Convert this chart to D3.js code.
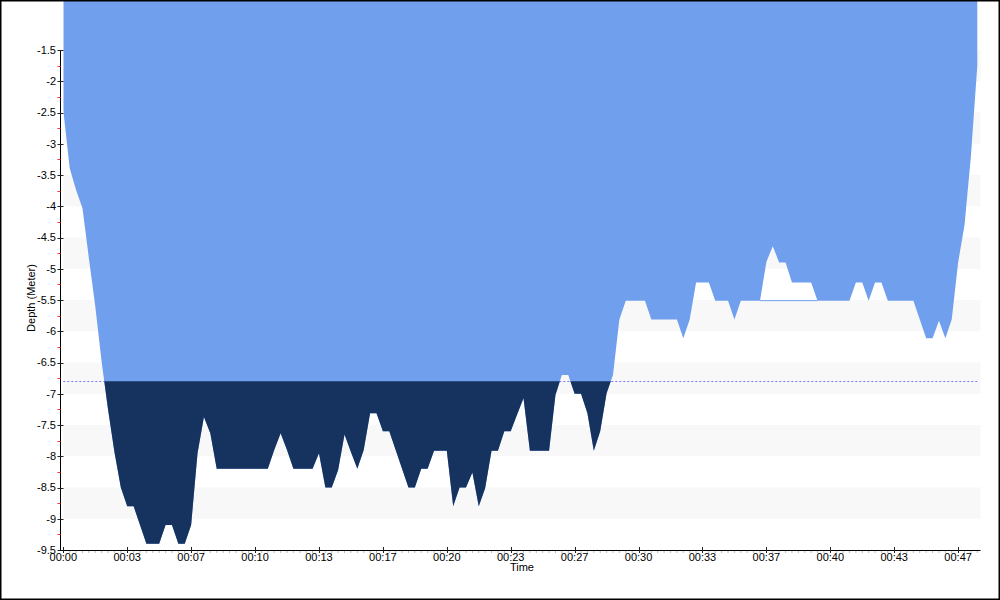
<!DOCTYPE html>
<html>
<head>
<meta charset="utf-8">
<script src="https://cdn.jsdelivr.net/npm/d3@7"></script>
<style>
  html, body { margin: 0; padding: 0; background: #fff; }
  svg { display: block; }
  text { font-family: "Liberation Sans", Arial, sans-serif; fill: #000; }
</style>
</head>
<body>
<svg id="chart" width="1000" height="600"></svg>
<script>
// ---- data ----
const sampleSeconds = 20; // logger sample interval
const depths = [
  -2.46, -3.39, -3.74, -4.03, -4.83, -5.6, -6.49, -7.25, -7.93, -8.5,
  -8.8, -8.8, -9.1, -9.4, -9.4, -9.4, -9.1, -9.1, -9.4, -9.4,
  -9.1, -7.95, -7.37, -7.63, -8.2, -8.2, -8.2, -8.2, -8.2, -8.2,
  -8.2, -8.2, -8.2, -7.9, -7.63, -7.9, -8.2, -8.2, -8.2, -8.2,
  -7.95, -8.5, -8.5, -8.22, -7.65, -7.93, -8.2, -7.9, -7.31, -7.31,
  -7.6, -7.6, -7.9, -8.2, -8.5, -8.5, -8.2, -8.2, -7.91, -7.91,
  -7.91, -8.8, -8.5, -8.5, -8.26, -8.8, -8.51, -7.91, -7.91, -7.6,
  -7.6, -7.33, -7.07, -7.91, -7.91, -7.91, -7.91, -7.02, -6.7, -6.7,
  -7.0, -7.0, -7.31, -7.91, -7.6, -6.99, -6.7, -5.81, -5.51, -5.51,
  -5.51, -5.51, -5.81, -5.81, -5.81, -5.81, -5.81, -6.11, -5.81, -5.22,
  -5.22, -5.22, -5.51, -5.51, -5.51, -5.81, -5.51, -5.51, -5.51, -5.51,
  -4.89, -4.64, -4.9, -4.9, -5.22, -5.22, -5.22, -5.22, -5.51, -5.51,
  -5.51, -5.51, -5.51, -5.51, -5.22, -5.22, -5.51, -5.22, -5.22, -5.51,
  -5.51, -5.51, -5.51, -5.51, -5.81, -6.11, -6.11, -5.83, -6.11, -5.81,
  -4.9, -4.3, -3.2, -1.75
];
const thresholdDepth = -6.8;
const sliverTimes = [2180, 2360];
const sliverDepth = -5.51;

const xTickValues = [0, 200, 400, 600, 800, 1000, 1200, 1400, 1600, 1800, 2000, 2200, 2400, 2600, 2800];
const xTickLabels = ["00:00", "00:03", "00:07", "00:10", "00:13", "00:17", "00:20", "00:23",
                     "00:27", "00:30", "00:33", "00:37", "00:40", "00:43", "00:47"];
const yTickValues = [-9.5, -9, -8.5, -8, -7.5, -7, -6.5, -6, -5.5, -5, -4.5, -4, -3.5, -3, -2.5, -2, -1.5];
const yTickLabels = ["-9.5", "-9", "-8.5", "-8", "-7.5", "-7", "-6.5", "-6", "-5.5", "-5", "-4.5", "-4",
                     "-3.5", "-3", "-2.5", "-2", "-1.5"];
const yMinorValues = [-9.25, -8.75, -8.25, -7.75, -7.25, -6.75, -6.25, -5.75, -5.25, -4.75, -4.25,
                      -3.75, -3.25, -2.75, -2.25, -1.75];
const bandTops = [-1.5, -2.5, -3.5, -4.5, -5.5, -6.5, -7.5, -8.5];

// ---- layout ----
const svg = d3.select("#chart");
const plotLeft = 63.3, plotRight = 980.5, plotTop = 0, plotBottom = 550;
const xMax = 2870;
const x = d3.scaleLinear().domain([0, xMax]).range([plotLeft, plotRight]);
const y = d3.scaleLinear().domain([-9.5, -1.5]).range([550, 50]);

const data = depths.map((d, i) => ({ t: i * sampleSeconds, d }));

svg.append("defs").append("clipPath").attr("id", "plotClip")
  .append("rect").attr("x", plotLeft).attr("y", plotTop)
  .attr("width", plotRight - plotLeft).attr("height", plotBottom - plotTop);
svg.select("defs").append("clipPath").attr("id", "deepClip")
  .append("rect").attr("x", plotLeft).attr("y", y(thresholdDepth))
  .attr("width", plotRight - plotLeft).attr("height", plotBottom - y(thresholdDepth));

// bands
svg.append("g").selectAll("rect").data(bandTops).join("rect")
  .attr("x", plotLeft).attr("width", plotRight - plotLeft)
  .attr("y", d => y(d)).attr("height", d => y(d - 0.5) - y(d))
  .attr("fill", "#f8f8f8");

// threshold dotted line
const thrY = Math.floor(y(thresholdDepth)) + 0.5;
svg.append("line")
  .attr("x1", x(0)).attr("x2", x(data[data.length - 1].t))
  .attr("y1", thrY).attr("y2", thrY)
  .attr("stroke", "#7878ff").attr("stroke-width", 1)
  .attr("stroke-dasharray", "2,2");

const area = d3.area()
  .x(p => x(p.t))
  .y0(plotTop)
  .y1(p => y(p.d));

const g = svg.append("g").attr("clip-path", "url(#plotClip)");
g.append("path").datum(data).attr("d", area).attr("fill", "#70a0ed");
g.append("path").datum(data).attr("d", area).attr("fill", "#16325f")
  .attr("clip-path", "url(#deepClip)");

// thin residual line
g.append("line")
  .attr("x1", x(sliverTimes[0])).attr("x2", x(sliverTimes[1]))
  .attr("y1", y(sliverDepth)).attr("y2", y(sliverDepth))
  .attr("stroke", "#70a0ed").attr("stroke-width", 1);

// y axis
const axisX = 60.5;
const yAxis = svg.append("g");
yAxis.append("line").attr("x1", axisX).attr("x2", axisX)
  .attr("y1", y(-1.5)).attr("y2", y(-9.5) + 0.5)
  .attr("stroke", "#000").attr("stroke-width", 1);
yAxis.selectAll("line.minor").data(yMinorValues).join("line").attr("class", "minor")
  .attr("x1", axisX - 3).attr("x2", axisX)
  .attr("y1", d => Math.round(y(d)) + 0.5).attr("y2", d => Math.round(y(d)) + 0.5)
  .attr("stroke", "#ff3030");
yAxis.selectAll("line.major").data(yTickValues).join("line").attr("class", "major")
  .attr("x1", axisX - 3).attr("x2", axisX + 3)
  .attr("y1", d => Math.round(y(d)) + 0.5).attr("y2", d => Math.round(y(d)) + 0.5)
  .attr("stroke", "#222");
yAxis.selectAll("text").data(yTickValues).join("text")
  .attr("x", 56).attr("y", d => y(d)).attr("dy", "0.35em")
  .attr("text-anchor", "end").attr("font-size", 11)
  .text((d, i) => yTickLabels[i]);

// x axis
const xAxis = svg.append("g");
xAxis.append("line").attr("x1", axisX).attr("x2", plotRight)
  .attr("y1", 550.5).attr("y2", 550.5).attr("stroke", "#000");
const minorTicks = d3.range(0, xMax, 20).filter(t => t % 200 !== 0);
xAxis.selectAll("line.minor").data(minorTicks).join("line").attr("class", "minor")
  .attr("x1", d => x(d)).attr("x2", d => x(d))
  .attr("y1", 551).attr("y2", 553).attr("stroke", "#bbb");
xAxis.selectAll("line.major").data(xTickValues).join("line").attr("class", "major")
  .attr("x1", d => Math.round(x(d)) + 0.5).attr("x2", d => Math.round(x(d)) + 0.5)
  .attr("y1", 547).attr("y2", 553).attr("stroke", "#222");
xAxis.selectAll("text").data(xTickValues).join("text")
  .attr("x", d => x(d)).attr("y", 561)
  .attr("text-anchor", "middle").attr("font-size", 11)
  .text((d, i) => xTickLabels[i]);

// axis titles
svg.append("text").attr("x", (plotLeft + plotRight) / 2).attr("y", 570.5)
  .attr("text-anchor", "middle").attr("font-size", 11).text("Time");
svg.append("text").attr("transform", "translate(34.5,298) rotate(-90)")
  .attr("text-anchor", "middle").attr("font-size", 11).text("Depth (Meter)");

// border
svg.append("rect").attr("x", 0.75).attr("y", 0.75).attr("width", 998.5).attr("height", 598.5)
  .attr("fill", "none").attr("stroke", "#000").attr("stroke-width", 1.5);
</script>
</body>
</html>
